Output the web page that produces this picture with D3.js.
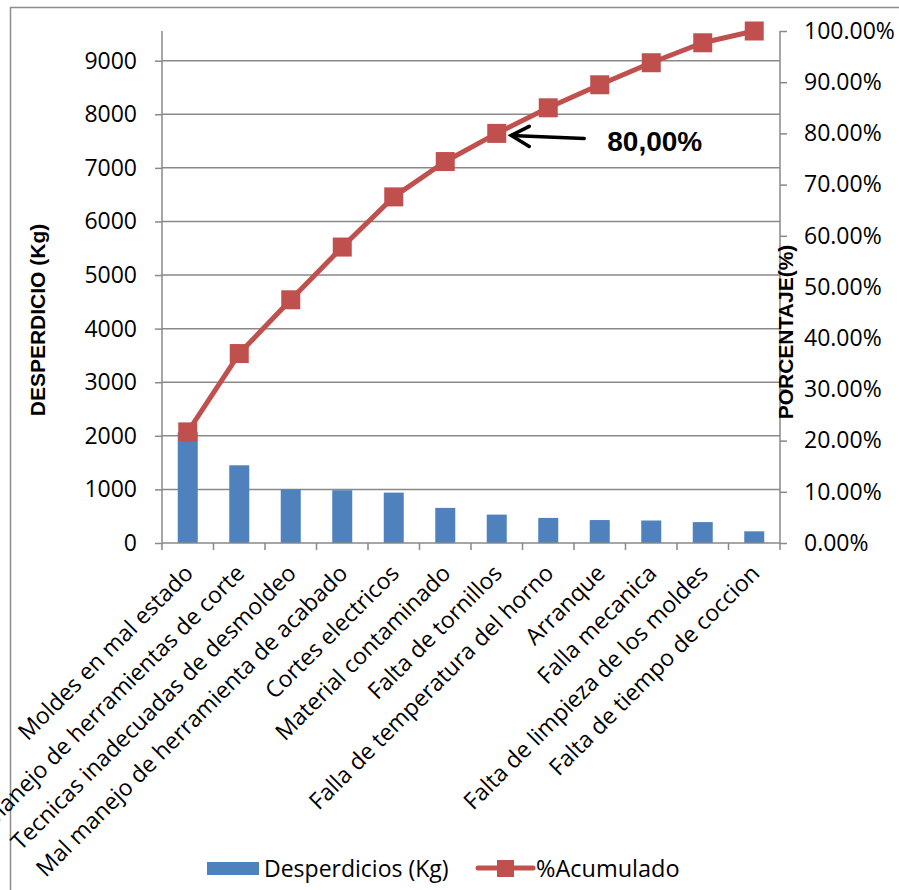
<!DOCTYPE html>
<html>
<head>
<meta charset="utf-8">
<script src="https://cdn.jsdelivr.net/npm/d3@7"></script>
<style>
  html, body { margin: 0; padding: 0; background: #fff; }
  svg { display: block; }
</style>
</head>
<body>
<svg id="chart" width="899" height="890"></svg>
<script>
// Waste causes, sorted from largest to smallest
const categories = [
  "Moldes en mal estado",
  "Mal manejo de herramientas de corte",
  "Tecnicas inadecuadas de desmoldeo",
  "Mal manejo de herramienta de acabado",
  "Cortes electricos",
  "Material contaminado",
  "Falta de tornillos",
  "Falla de temperatura del horno",
  "Arranque",
  "Falla mecanica",
  "Falta de limpieza de los moldes",
  "Falta de tiempo de coccion"
];
// Waste per cause (Kg)
const desperdicios = [2070, 1450, 1000, 985, 940, 655, 530, 468, 428, 420, 390, 218];
// Cumulative share of the total
const acumulado = [0.217, 0.370, 0.475, 0.578, 0.676, 0.745, 0.800, 0.850, 0.895, 0.938, 0.977, 1.000];
// Axis ticks
const leftTicks = [0, 1000, 2000, 3000, 4000, 5000, 6000, 7000, 8000, 9000];
const rightTicks = [0, 0.1, 0.2, 0.3, 0.4, 0.5, 0.6, 0.7, 0.8, 0.9, 1.0];
// Callout on the cumulative line
const calloutIndex = 6;
const calloutText = "80,00%";

const svg = d3.select("#chart");
const W = 899, H = 890;
const plot = { left: 162, right: 780, top: 31, bottom: 543 };
const gridColor = "#898989";
const barColor = "#4F81BD";
const lineColor = "#C0504D";
const font = "'Open Sans', 'Liberation Sans', sans-serif";
const titleFont = "'Liberation Sans Narrow', 'Liberation Sans', 'DejaVu Sans Condensed', sans-serif";

// Chart-area border
svg.append("rect")
  .attr("x", 10.5).attr("y", 7.5)
  .attr("width", W + 20).attr("height", H + 20)
  .attr("fill", "#fff").attr("stroke", "#8c8c8c").attr("stroke-width", 1.5);

const total = d3.sum(desperdicios);

const x = d3.scaleBand()
  .domain(categories)
  .range([plot.left, plot.right])
  .paddingInner(0).paddingOuter(0);

const yL = d3.scaleLinear().domain([0, total]).range([plot.bottom, plot.top]);
const yR = d3.scaleLinear().domain([0, 1]).range([plot.bottom, plot.top]);

// Horizontal gridlines at the primary ticks
svg.append("g")
  .selectAll("line")
  .data(leftTicks.filter(d => d > 0))
  .join("line")
  .attr("x1", plot.left).attr("x2", plot.right)
  .attr("y1", d => yL(d)).attr("y2", d => yL(d))
  .attr("stroke", gridColor).attr("stroke-width", 1.5);

// Bars
const barW = 20;
svg.append("g")
  .selectAll("rect")
  .data(desperdicios)
  .join("rect")
  .attr("x", (d, i) => x(categories[i]) + x.bandwidth() / 2 - barW / 2)
  .attr("y", d => yL(d))
  .attr("width", barW)
  .attr("height", d => yL(0) - yL(d))
  .attr("fill", barColor);

// Left axis
const axL = svg.append("g")
  .attr("transform", `translate(${plot.left},0)`)
  .call(d3.axisLeft(yL).tickValues(leftTicks).tickSize(7).tickPadding(18).tickFormat(d3.format("d")));
axL.select(".domain").attr("d", `M0,${plot.top}V${plot.bottom}`);

// Right axis
const axR = svg.append("g")
  .attr("transform", `translate(${plot.right},0)`)
  .call(d3.axisRight(yR).tickValues(rightTicks).tickSize(7).tickPadding(17).tickFormat(d3.format(".2%")));
axR.select(".domain").attr("d", `M0,${plot.top}V${plot.bottom}`);

// Bottom axis (ticks at category boundaries)
const bounds = categories.map(c => x(c)).concat([plot.right]);
const axB = svg.append("g");
axB.append("line")
  .attr("x1", plot.left).attr("x2", plot.right)
  .attr("y1", plot.bottom).attr("y2", plot.bottom)
  .attr("stroke", gridColor).attr("stroke-width", 1.5);
axB.selectAll("line.tick")
  .data(bounds)
  .join("line")
  .attr("class", "tick")
  .attr("x1", d => d).attr("x2", d => d)
  .attr("y1", plot.bottom).attr("y2", plot.bottom + 7)
  .attr("stroke", gridColor).attr("stroke-width", 1.5);

[axL, axR].forEach(ax => {
  ax.select(".domain").attr("stroke", gridColor).attr("stroke-width", 1.5);
  ax.selectAll(".tick line").attr("stroke", gridColor).attr("stroke-width", 1.5);
  ax.selectAll(".tick text")
    .attr("fill", "#000")
    .style("font-family", font)
    .style("font-size", "23px");
});

// Rotated category labels
svg.append("g")
  .selectAll("text")
  .data(categories)
  .join("text")
  .attr("transform", d => `translate(${x(d) + x.bandwidth() / 2 + 1},${plot.bottom + 26}) rotate(-45)`)
  .attr("text-anchor", "end")
  .attr("dy", "0.35em")
  .style("font-family", font)
  .style("font-size", "23px")
  .attr("fill", "#000")
  .text(d => d);

// Cumulative line
const lineGen = d3.line()
  .x((d, i) => x(categories[i]) + x.bandwidth() / 2)
  .y(d => yR(d));
svg.append("path")
  .datum(acumulado)
  .attr("d", lineGen)
  .attr("fill", "none")
  .attr("stroke", lineColor)
  .attr("stroke-width", 5)
  .attr("stroke-linejoin", "round");

const mk = 19;
svg.append("g")
  .selectAll("rect")
  .data(acumulado)
  .join("rect")
  .attr("x", (d, i) => x(categories[i]) + x.bandwidth() / 2 - mk / 2)
  .attr("y", d => yR(d) - mk / 2)
  .attr("width", mk).attr("height", mk)
  .attr("fill", lineColor);

// Axis titles
svg.append("text")
  .attr("transform", `translate(45,${(plot.top + plot.bottom) / 2 + 33}) rotate(-90)`)
  .attr("text-anchor", "middle")
  .style("font-family", titleFont)
  .style("font-weight", "bold")
  .style("font-size", "21px")
  .text("DESPERDICIO (Kg)");

svg.append("text")
  .attr("transform", `translate(793,${(plot.top + plot.bottom) / 2 + 45}) rotate(-90)`)
  .attr("text-anchor", "middle")
  .style("font-family", titleFont)
  .style("font-weight", "bold")
  .style("font-size", "21px")
  .text("PORCENTAJE(%)");

// Callout arrow pointing at the 80% point
const cx = x(categories[calloutIndex]) + x.bandwidth() / 2;
const cy = yR(acumulado[calloutIndex]);
const tipX = cx + mk / 2 + 5, tipY = cy + 2;
const arrow = svg.append("g")
  .attr("stroke", "#000").attr("stroke-width", 3.5)
  .attr("fill", "none").attr("stroke-linecap", "round");
arrow.append("line")
  .attr("x1", tipX + 73).attr("y1", tipY + 3)
  .attr("x2", tipX).attr("y2", tipY);
arrow.append("path")
  .attr("d", `M${tipX + 18},${tipY - 9}L${tipX},${tipY}L${tipX + 18},${tipY + 11}`);

svg.append("text")
  .attr("x", tipX + 96).attr("y", tipY + 16)
  .style("font-family", "'Liberation Sans', sans-serif")
  .style("font-weight", "bold")
  .style("font-size", "28px")
  .text(calloutText);

// Legend
const leg = svg.append("g");
leg.append("rect")
  .attr("x", 207).attr("y", 862).attr("width", 52).attr("height", 13)
  .attr("fill", barColor);
leg.append("text")
  .attr("x", 264).attr("y", 877)
  .style("font-family", font).style("font-size", "23px")
  .text("Desperdicios (Kg)");
leg.append("line")
  .attr("x1", 478).attr("x2", 533).attr("y1", 868).attr("y2", 868)
  .attr("stroke", lineColor).attr("stroke-width", 5).attr("stroke-linecap", "round");
leg.append("rect")
  .attr("x", 497).attr("y", 860).attr("width", 17).attr("height", 17)
  .attr("fill", lineColor);
leg.append("text")
  .attr("x", 536).attr("y", 877)
  .style("font-family", font).style("font-size", "23.5px")
  .text("%Acumulado");
</script>
</body>
</html>
